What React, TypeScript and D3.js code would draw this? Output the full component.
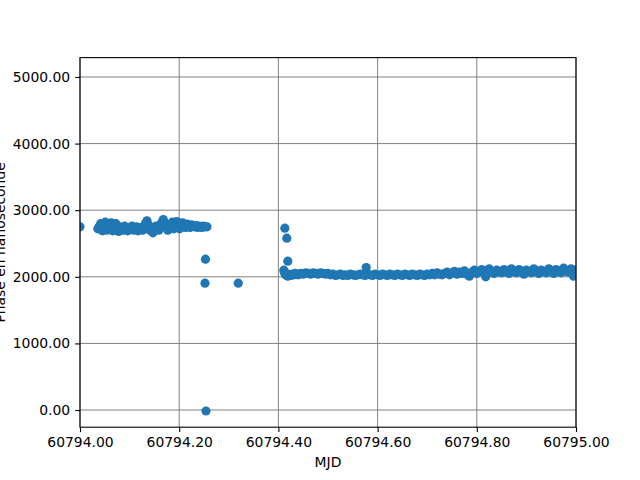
import React, { useEffect, useRef } from "react";
import * as d3 from "d3";

const baseMjd = 60794;

// morning cluster (fraction of day after baseMjd, phase in ns)
const morningDay = [
  0.000, 0.036, 0.039, 0.042, 0.045, 0.048, 0.051, 0.054, 0.057, 0.060,
  0.063, 0.066, 0.069, 0.072, 0.075, 0.078, 0.081, 0.084, 0.087, 0.090,
  0.093, 0.096, 0.099, 0.102, 0.105, 0.108, 0.111, 0.114, 0.117, 0.120,
  0.123, 0.126, 0.129, 0.132, 0.135, 0.138, 0.141, 0.144, 0.147, 0.150,
  0.153, 0.156, 0.159, 0.162, 0.165, 0.168, 0.171, 0.174, 0.177, 0.180,
  0.183, 0.186, 0.189, 0.192, 0.195, 0.198, 0.201, 0.204, 0.207, 0.210,
  0.213, 0.216, 0.219, 0.222, 0.225, 0.228, 0.231, 0.234, 0.237, 0.240,
  0.243, 0.246, 0.249, 0.252, 0.256,
];
const morningPhase = [
  2750, 2720, 2760, 2800, 2690, 2780, 2820, 2700, 2770, 2740,
  2810, 2690, 2760, 2800, 2720, 2680, 2750, 2730, 2700, 2760,
  2720, 2690, 2740, 2710, 2760, 2700, 2730, 2750, 2690, 2740,
  2720, 2700, 2760, 2800, 2840, 2780, 2700, 2740, 2660, 2710,
  2760, 2730, 2700, 2780, 2820, 2860, 2800, 2740, 2700, 2770,
  2740, 2820, 2720, 2780, 2830, 2760, 2720, 2790, 2810, 2750,
  2740, 2790, 2770, 2740, 2780, 2760, 2750, 2770, 2740, 2760,
  2750, 2740, 2760, 2750, 2750,
];

// isolated points
const outlierDay = [0.253, 0.252, 0.254, 0.319, 0.413, 0.417, 0.419, 0.577];
const outlierPhase = [2265, 1905, -15, 1905, 2730, 2580, 2235, 2140];

// afternoon band
const afternoonDay = [
  0.411, 0.412, 0.414, 0.416, 0.419, 0.422, 0.425, 0.428, 0.431, 0.434,
  0.437, 0.440, 0.445, 0.450, 0.455, 0.460, 0.465, 0.470, 0.475, 0.480,
  0.485, 0.490, 0.495, 0.500, 0.505, 0.510, 0.515, 0.520, 0.525, 0.530,
  0.535, 0.540, 0.545, 0.550, 0.555, 0.560, 0.565, 0.570, 0.575, 0.580,
  0.585, 0.590, 0.595, 0.600, 0.605, 0.610, 0.615, 0.620, 0.625, 0.630,
  0.635, 0.640, 0.645, 0.650, 0.655, 0.660, 0.665, 0.670, 0.675, 0.680,
  0.685, 0.690, 0.695, 0.700, 0.705, 0.710, 0.715, 0.720, 0.725, 0.730,
  0.735, 0.740, 0.745, 0.750, 0.755, 0.760, 0.765, 0.770, 0.775, 0.780,
  0.785, 0.790, 0.795, 0.800, 0.805, 0.810, 0.815, 0.818, 0.820, 0.825,
  0.830, 0.835, 0.840, 0.845, 0.850, 0.855, 0.860, 0.865, 0.870, 0.875,
  0.880, 0.885, 0.890, 0.895, 0.900, 0.905, 0.910, 0.915, 0.920, 0.925,
  0.930, 0.935, 0.940, 0.945, 0.950, 0.955, 0.960, 0.965, 0.970, 0.975,
  0.980, 0.985, 0.990, 0.995, 0.998, 1.000,
];
const afternoonPhase = [
  2100, 2070, 2030, 2050, 2010, 2030, 2020, 2040, 2030, 2050,
  2040, 2030, 2050, 2040, 2060, 2050, 2040, 2060, 2050, 2040,
  2060, 2050, 2040, 2050, 2030, 2040, 2020, 2030, 2040, 2020,
  2030, 2020, 2040, 2030, 2020, 2030, 2040, 2030, 2020, 2040,
  2030, 2020, 2040, 2030, 2020, 2040, 2030, 2020, 2040, 2030,
  2020, 2040, 2030, 2020, 2040, 2030, 2020, 2040, 2030, 2020,
  2040, 2030, 2020, 2040, 2030, 2050, 2030, 2060, 2040, 2030,
  2050, 2070, 2030, 2060, 2080, 2040, 2070, 2050, 2090, 2040,
  2010, 2070, 2100, 2050, 2080, 2110, 2060, 2000, 2090, 2120,
  2070, 2050, 2100, 2080, 2060, 2110, 2090, 2050, 2120, 2080,
  2060, 2110, 2090, 2040, 2100, 2080, 2060, 2120, 2090, 2050,
  2100, 2080, 2060, 2120, 2090, 2050, 2110, 2080, 2060, 2130,
  2090, 2070, 2120, 2010, 2080, 2100,
];

const xTicks = [60794.0, 60794.2, 60794.4, 60794.6, 60794.8, 60795.0];
const yTicks = [0, 1000, 2000, 3000, 4000, 5000];

const App: React.FC = (): JSX.Element => {
  const ref = useRef<SVGSVGElement>(null);

  useEffect(() => {
    const width = 640, height = 480;
    const left = 80, right = 576, top = 57.6, bottom = 427.2;
    const font = "'DejaVu Sans', sans-serif";

    const svg = d3.select(ref.current);
    svg.selectAll("*").remove();
    svg.attr("width", width).attr("height", height);
    svg.append("rect").attr("width", width).attr("height", height).attr("fill", "#fff");

    const x = d3.scaleLinear().domain([60794, 60795]).range([left, right]);
    const y = d3.scaleLinear().domain([-258, 5291]).range([bottom, top]);

    svg.append("defs").append("clipPath").attr("id", "plotclip")
      .append("rect")
      .attr("x", left).attr("y", top)
      .attr("width", right - left).attr("height", bottom - top);

    // grid
    const grid = svg.append("g").attr("stroke", "#808080").attr("stroke-width", 1);
    xTicks.forEach(t => {
      grid.append("line").attr("x1", x(t)).attr("x2", x(t)).attr("y1", top).attr("y2", bottom);
    });
    yTicks.forEach(t => {
      grid.append("line").attr("x1", left).attr("x2", right).attr("y1", y(t)).attr("y2", y(t));
    });

    const points: [number, number][] = [];
    morningDay.forEach((d, i) => points.push([baseMjd + d, morningPhase[i]]));
    outlierDay.forEach((d, i) => points.push([baseMjd + d, outlierPhase[i]]));
    afternoonDay.forEach((d, i) => points.push([baseMjd + d, afternoonPhase[i]]));

    svg.append("g")
      .attr("clip-path", "url(#plotclip)")
      .selectAll("circle")
      .data(points)
      .enter().append("circle")
      .attr("cx", d => x(d[0]))
      .attr("cy", d => y(d[1]))
      .attr("r", 4.6)
      .attr("fill", "#1f77b4");

    // frame
    svg.append("rect")
      .attr("x", left).attr("y", top)
      .attr("width", right - left).attr("height", bottom - top)
      .attr("fill", "none").attr("stroke", "#000").attr("stroke-width", 1.1);

    const xAxis = svg.append("g")
      .attr("transform", `translate(0, ${bottom})`)
      .call(d3.axisBottom(x).tickValues(xTicks).tickFormat(d3.format(".2f")).tickSize(4.9).tickPadding(4.9));
    xAxis.select(".domain").remove();

    const yAxis = svg.append("g")
      .attr("transform", `translate(${left}, 0)`)
      .call(d3.axisLeft(y).tickValues(yTicks).tickFormat(d3.format(".2f")).tickSize(4.9).tickPadding(4.9));
    yAxis.select(".domain").remove();

    [xAxis, yAxis].forEach(a => {
      a.selectAll("line").attr("stroke", "#000").attr("stroke-width", 1.1);
      a.selectAll("text").style("font-family", font).style("font-size", "13.9px").attr("fill", "#000");
    });

    svg.append("text")
      .attr("x", (left + right) / 2)
      .attr("y", 467)
      .attr("text-anchor", "middle")
      .style("font-family", font)
      .style("font-size", "13.9px")
      .text("MJD");

    svg.append("text")
      .attr("transform", `translate(5, ${(top + bottom) / 2}) rotate(-90)`)
      .attr("text-anchor", "middle")
      .style("font-family", font)
      .style("font-size", "13.9px")
      .text("Phase en nanoseconde");
  }, []);

  return (
    <div style={{ position: "absolute", left: 0, top: 0 }}>
      <svg ref={ref} style={{ display: "block" }}></svg>
    </div>
  );
};

export default App;
